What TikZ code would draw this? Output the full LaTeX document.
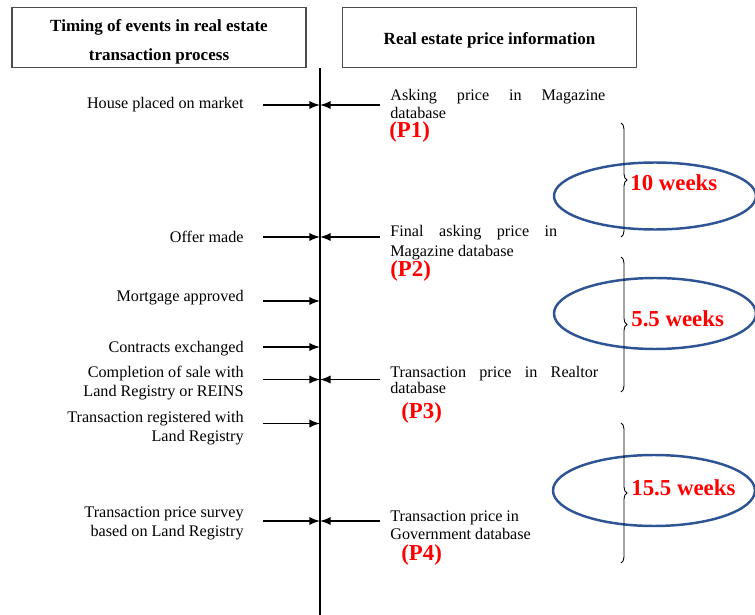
\documentclass[tikz,border=0pt]{standalone}
\usepackage{fontspec}
\setmainfont{Liberation Serif}
\usetikzlibrary{decorations.pathreplacing,shapes.geometric}

\definecolor{ovalblue}{RGB}{46,84,148}

\tikzset{
  hdr/.style={draw=black!70, line width=0.7pt, minimum width=5.88cm, minimum height=1.2cm, inner sep=0pt},
  ttl/.style={align=center, inner sep=0pt, font=\fontsize{9.7}{16.7}\selectfont\bfseries},
  evt/.style={anchor=east, align=right, inner sep=0pt, font=\fontsize{9.2}{10.8}\selectfont},
  src/.style={anchor=west, align=left, inner sep=0pt, font=\fontsize{9.2}{10.5}\selectfont},
  pr/.style={anchor=west, inner sep=0pt, text=red, font=\fontsize{13}{15}\selectfont\bfseries},
  wk/.style={anchor=west, inner sep=0pt, text=red, font=\fontsize{13}{15}\selectfont\bfseries},
  oval/.style={ellipse, draw=ovalblue, line width=1.4pt, minimum width=4.04cm, inner sep=0pt},
  spine/.style={line width=1.7pt},
  arr/.style={-latex, line width=1.1pt},
  brc/.style={decorate, decoration={brace, amplitude=0.12cm}, line width=0.5pt},
}

\begin{document}
\begin{tikzpicture}[x=0.02cm, y=-0.02cm]
            \useasboundingbox (0,0) rectangle (755,615);

            \node[hdr] (lbox) at (159,37.8) {};
            \node[hdr] (rbox) at (489.5,37.8) {};
            \node[ttl] (timing) at (159,41.8) {Timing of events in real estate\\transaction process};
            \node[ttl] (price) at (489.5,40.7) {Real estate price information};

            \coordinate (stop) at (320,68);
            \coordinate (sbot) at (320,615);
            \draw[spine] (stop) -- (sbot);
            \coordinate (lx) at (263,0);
            \coordinate (rx) at (380,0);

            \node[evt] (house) at (244,105) {House placed on market};
            \node[evt] (offer) at (244,236.5) {Offer made};
            \node[evt] (mortgage) at (244,297.5) {Mortgage approved};
            \node[evt] (contracts) at (244,348.5) {Contracts exchanged};
            \node[evt] (completion) at (244,383.5) {Completion of sale with\\Land Registry or REINS};
            \node[evt] (registered) at (244,428.5) {Transaction registered with\\Land Registry};
            \node[evt] (survey) at (244,523) {Transaction price survey\\based on Land Registry};

            \coordinate (t1) at (320,105);
            \coordinate (t2) at (320,237);
            \coordinate (t3) at (320,301);
            \coordinate (t4) at (320,347);
            \coordinate (t5) at (320,379.5);
            \coordinate (t6) at (320,423.5);
            \coordinate (t7) at (320,521);
            \draw[arr] (t1 -| lx) -- (t1);
            \draw[arr] (t1 -| rx) -- (t1);
            \draw[arr] (t2 -| lx) -- (t2);
            \draw[arr] (t2 -| rx) -- (t2);
            \draw[arr] (t3 -| lx) -- (t3);
            \draw[arr] (t4 -| lx) -- (t4);
            \draw[arr] (t5 -| lx) -- (t5);
            \draw[arr] (t5 -| rx) -- (t5);
            \draw[arr] (t6 -| lx) -- (t6);
            \draw[arr] (t7 -| lx) -- (t7);
            \draw[arr] (t7 -| rx) -- (t7);

            \node[src] (asking) at (390,104) {\makebox[4.3cm][s]{Asking price in Magazine}\\database};
            \node[src, font=\fontsize{9.2}{11.3}\selectfont] (final) at (390,242.5) {\makebox[3.34cm][s]{Final asking price in}\\Magazine database};
            \node[src, font=\fontsize{9.2}{8.8}\selectfont] (realtor) at (390,380) {\makebox[4.16cm][s]{Transaction price in Realtor}\\database};
            \node[src] (govt) at (390,525.5) {Transaction price in\\Government database};

            \node[pr] (p1) at (389,132) {(P1)};
            \node[pr] (p2) at (390,271.5) {(P2)};
            \node[pr] (p3) at (401,413) {(P3)};
            \node[pr] (p4) at (401,555) {(P4)};

            \node[oval, minimum height=1.34cm] (o1) at (655,196) {};
            \node[oval, minimum height=1.42cm] (o2) at (655,313.5) {};
            \node[oval, minimum height=1.42cm] (o3) at (654,490.5) {};

            \coordinate (b1a) at (621,123);
            \coordinate (b1b) at (621,237);
            \coordinate (b2a) at (621,257);
            \coordinate (b2b) at (621,392);
            \coordinate (b3a) at (621,423);
            \coordinate (b3b) at (621,563);
            \draw[brc] (b1a) -- (b1b);
            \draw[brc] (b2a) -- (b2b);
            \draw[brc] (b3a) -- (b3b);

            \node[wk] (w1) at (630,183) {10 weeks};
            \node[wk] (w2) at (631,319) {5.5 weeks};
            \node[wk] (w3) at (631,488) {15.5 weeks};

        \end{tikzpicture}
\end{document}
